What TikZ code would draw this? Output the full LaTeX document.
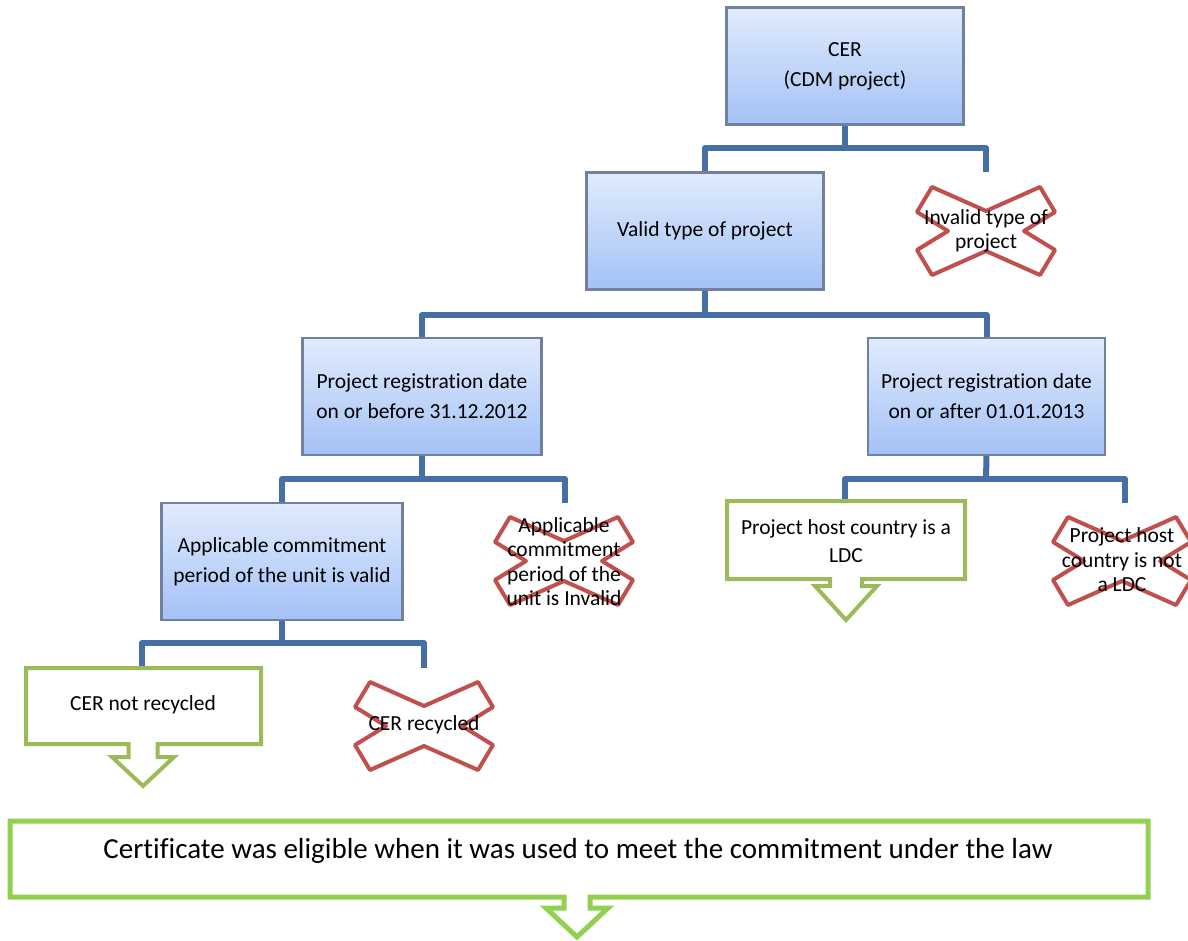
\documentclass[tikz,border=0pt]{standalone}
\usepackage{fontspec}
\setmainfont{Carlito}[Ligatures={NoCommon}]
\usetikzlibrary{calc}
\definecolor{conncol}{RGB}{70,112,165}
\definecolor{boxborder}{RGB}{112,128,158}
\definecolor{boxtop}{RGB}{224,235,253}
\definecolor{boxbot}{RGB}{164,194,246}
\definecolor{xred}{RGB}{192,80,77}
\definecolor{cgreen}{RGB}{155,187,89}
\definecolor{bgreen}{RGB}{146,208,80}
\tikzset{
  bluebox/.style={draw=boxborder, line width=1.8pt, top color=boxtop, bottom color=boxbot,
    minimum width=236pt, minimum height=116pt, inner sep=0pt, align=center,
    font=\fontsize{21.5}{30}\selectfont},
  conn/.style={draw=conncol, line width=6pt, line join=round},
  xline/.style={draw=xred, line width=4pt, line join=round},
  xtext/.style={align=center, inner sep=0pt, font=\fontsize{21.5}{24.5}\selectfont},
  gtext/.style={align=center, inner sep=0pt, font=\fontsize{21.5}{28}\selectfont},
  callout/.style={draw=cgreen, line width=4pt, line join=miter},
  bcallout/.style={draw=bgreen, line width=5pt, line join=miter},
  xmark/.pic={\draw[xline] (0,-20) -- (54,-44) -- (69,-19) -- (38,0) -- (69,19) -- (54,44)
     -- (0,20) -- (-54,44) -- (-69,19) -- (-38,0) -- (-69,-19) -- (-54,-44) -- cycle;}
}
\begin{document}
\begin{tikzpicture}[x=1pt,y=-1pt]
\useasboundingbox (0,0) rectangle (1188,941);
\clip (0,0) rectangle (1188,941);

% blue boxes
\node[bluebox] (cer) at (845,66) {CER\\(CDM project)};
\node[bluebox] (valid) at (705,231) {Valid type of project};
\node[bluebox, minimum width=238pt] (before) at (422,396.5) {Project registration date\\on or before 31.12.2012};
\node[bluebox] (after) at (986.5,396.5) {Project registration date\\on or after 01.01.2013};
\node[bluebox, minimum width=240pt] (applic) at (282,561.5) {Applicable commitment\\period of the unit is valid};

% connector end coordinates
\coordinate (j1) at (845,148);
\coordinate (invtop) at (986,172);
\coordinate (j2) at (705,315);
\coordinate (j3) at (422,479);
\coordinate (aitop) at (565,503);
\coordinate (j4) at (986,479);
\coordinate (ldctop) at (845,501);
\coordinate (nldctop) at (1125,503);
\coordinate (j5) at (282,643);
\coordinate (nrtop) at (142,668);
\coordinate (rtop) at (424,668);

% connectors
\draw[conn] (cer.south) -- (j1);
\draw[conn] (valid.north) |- (j1) -| (invtop);
\draw[conn] (valid.south) -- (j2);
\draw[conn] (before.north) |- (j2) -| (after.north);
\draw[conn] (before.south) -- (j3);
\draw[conn] (applic.north) |- (j3) -| (aitop);
\draw[conn] (after.south) -- (j4);
\draw[conn] (ldctop) |- (j4) -| (nldctop);
\draw[conn] (applic.south) -- (j5);
\draw[conn] (nrtop) |- (j5) -| (rtop);

% redraw box borders over connector ends
\foreach \n in {cer,valid,before,after,applic}{
  \draw[boxborder, line width=1.8pt] (\n.north west) rectangle (\n.south east);
}

% X marks
\pic at (986,231) {xmark};
\node[xtext] (inv) at (986,231) {Invalid type of\\project};
\pic at (564,561) {xmark};
\node[xtext] (ainv) at (564,561.5) {Applicable\\commitment\\period of the\\unit is Invalid};
\pic at (1122,561) {xmark};
\node[xtext] (nldc) at (1122,560) {Project host\\country is not\\a LDC};
\pic at (424,726) {xmark};
\node[xtext] (rec) at (424,725) {CER recycled};

% green callouts
\draw[callout] (727,501) -- (965,501) -- (965,579) -- (862,579) -- (862,586) -- (877,586)
  -- (846,620) -- (815,586) -- (830,586) -- (830,579) -- (727,579) -- cycle;
\node[gtext] (ldc) at (846,541) {Project host country is a\\LDC};

\draw[callout] (26,668) -- (261,668) -- (261,744) -- (157.5,744) -- (157.5,757) -- (174,757)
  -- (143,786) -- (112,757) -- (128.5,757) -- (128.5,744) -- (26,744) -- cycle;
\node[gtext] (nrec) at (143,705) {CER not recycled};

\draw[bcallout] (10,821) -- (1148,821) -- (1148,897) -- (590,897) -- (590,908) -- (608,908)
  -- (577,937) -- (546,908) -- (564,908) -- (564,897) -- (10,897) -- cycle;
\node[font=\fontsize{29}{32}\selectfont, inner sep=0pt] (elig) at (578,851)
  {Certificate was eligible when it was used to meet the commitment under the law};
\end{tikzpicture}
\end{document}
